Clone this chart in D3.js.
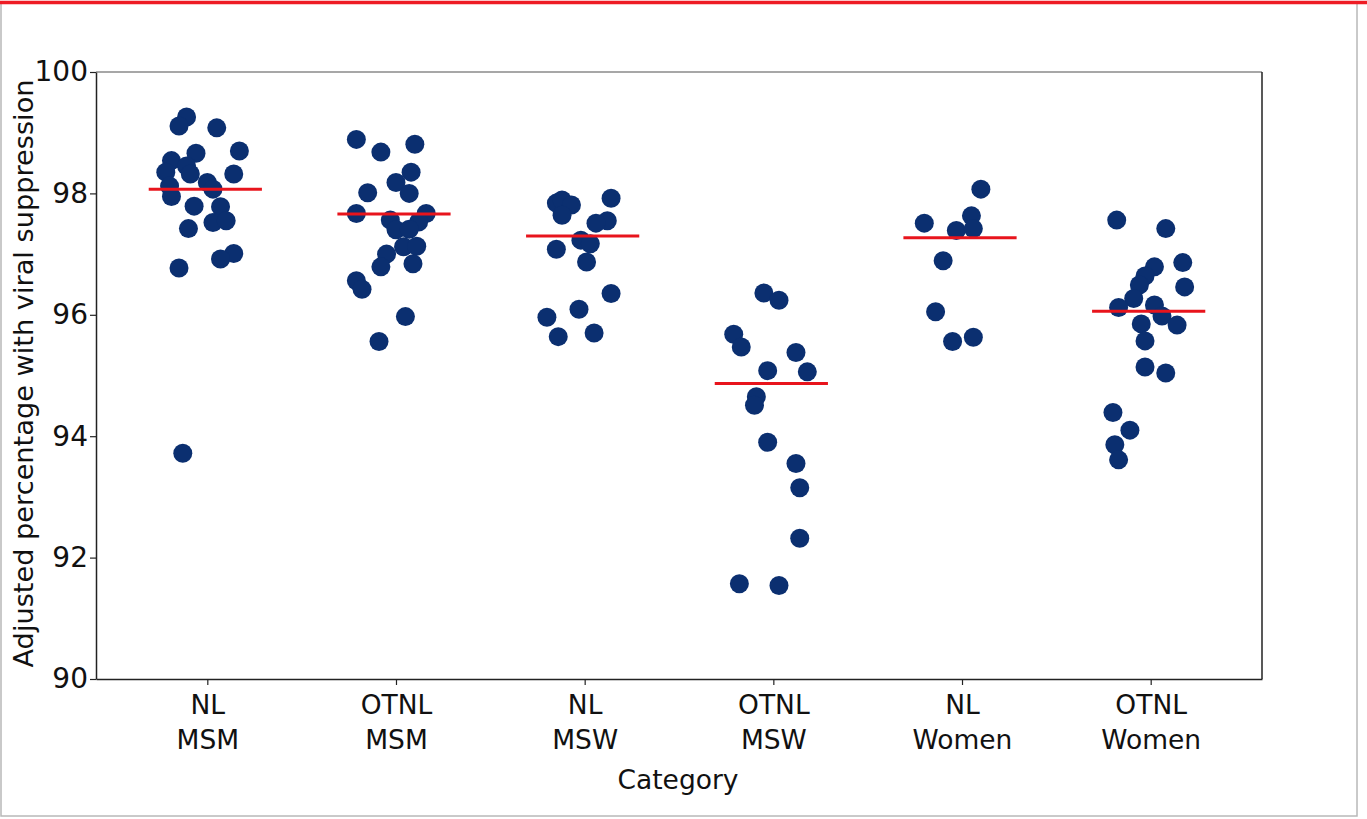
<!DOCTYPE html>
<html>
<head>
<meta charset="utf-8">
<script src="https://cdn.jsdelivr.net/npm/d3@7"></script>
<style>
  html, body { margin: 0; padding: 0; background: #fff; }
  svg { display: block; }
  text { font-family: "DejaVu Sans", Verdana, sans-serif; fill: #111; }
</style>
</head>
<body>
<svg id="chart" width="1367" height="819"></svg>
<script>
// ---- data ----
const categories = ["NL|MSM", "OTNL|MSM", "NL|MSW", "OTNL|MSW", "NL|Women", "OTNL|Women"];
const yTicks = [90, 92, 94, 96, 98, 100];

const nlMsm = [99.26, 99.11, 99.08, 98.70, 98.66, 98.54, 98.45, 98.35, 98.32, 98.32, 98.18, 98.12, 98.07, 97.95, 97.79, 97.78, 97.52, 97.55, 97.42, 97.01, 96.92, 96.77, 93.72];
const nlMsmJitter = [-0.11, -0.15, 0.05, 0.17, -0.06, -0.19, -0.11, -0.22, -0.09, 0.14, 0.00, -0.20, 0.03, -0.19, -0.07, 0.07, 0.03, 0.10, -0.10, 0.14, 0.07, -0.15, -0.13];

const otnlMsm = [98.89, 98.81, 98.68, 98.35, 98.18, 98.01, 98.00, 97.67, 97.67, 97.56, 97.53, 97.40, 97.41, 97.12, 97.13, 97.00, 96.84, 96.79, 96.56, 96.42, 95.97, 95.56];
const otnlMsmJitter = [-0.21, 0.10, -0.08, 0.08, 0.00, -0.15, 0.07, -0.21, 0.16, -0.03, 0.12, 0.00, 0.07, 0.04, 0.11, -0.05, 0.09, -0.08, -0.21, -0.18, 0.05, -0.09];

const nlMsw = [97.92, 97.84, 97.89, 97.81, 97.64, 97.55, 97.51, 97.23, 97.17, 97.08, 96.87, 96.35, 96.09, 95.96, 95.70, 95.64];
const nlMswJitter = [0.14, -0.15, -0.12, -0.07, -0.12, 0.12, 0.06, -0.02, 0.03, -0.15, 0.01, 0.14, -0.03, -0.20, 0.05, -0.14];

const otnlMsw = [96.36, 96.24, 95.68, 95.47, 95.38, 95.08, 95.06, 94.65, 94.51, 93.90, 93.55, 93.15, 92.32, 91.57, 91.54];
const otnlMswJitter = [-0.05, 0.03, -0.21, -0.17, 0.12, -0.03, 0.18, -0.09, -0.10, -0.03, 0.12, 0.14, 0.14, -0.18, 0.03];

const nlWomen = [98.07, 97.51, 97.63, 97.39, 97.42, 96.89, 96.05, 95.63, 95.56];
const nlWomenJitter = [0.10, -0.20, 0.05, -0.03, 0.06, -0.10, -0.14, 0.06, -0.05];

const otnlWomen = [97.56, 97.42, 96.86, 96.79, 96.64, 96.49, 96.46, 96.27, 96.12, 96.16, 95.98, 95.85, 95.83, 95.57, 95.14, 95.04, 94.39, 94.10, 93.86, 93.61];
const otnlWomenJitter = [-0.18, 0.08, 0.17, 0.02, -0.03, -0.06, 0.18, -0.09, -0.17, 0.02, 0.06, -0.05, 0.14, -0.03, -0.03, 0.08, -0.20, -0.11, -0.19, -0.17];

const groupValues = [nlMsm, otnlMsm, nlMsw, otnlMsw, nlWomen, otnlWomen];
const groupJitter = [nlMsmJitter, otnlMsmJitter, nlMswJitter, otnlMswJitter, nlWomenJitter, otnlWomenJitter];
const groupMeans = [98.07, 97.66, 97.30, 94.87, 97.27, 96.06];

// ---- layout ----
const W = 1367, H = 819;
const plot = { left: 96, right: 1262, top: 72, bottom: 679 };
const svg = d3.select("#chart");
const FONT = '"DejaVu Sans", Verdana, sans-serif';

// outer frame
svg.append("rect").attr("x", 1).attr("y", 3).attr("width", 1356).attr("height", 813)
  .attr("fill", "none").attr("stroke", "#b8b8b8").attr("stroke-width", 1.5);
svg.append("line").attr("x1", 0).attr("x2", W).attr("y1", 2.5).attr("y2", 2.5)
  .attr("stroke", "#ee1c24").attr("stroke-width", 3.5);

const x = d3.scalePoint().domain(categories).range([plot.left, plot.right]).padding(0.59);
const step = x.step();
const y = d3.scaleLinear().domain([90, 100]).range([plot.bottom, plot.top]);

// plot frame (top gray, right dark)
svg.append("line").attr("x1", plot.left).attr("x2", plot.right).attr("y1", plot.top).attr("y2", plot.top)
  .attr("stroke", "#8a8a8a").attr("stroke-width", 1.5);
svg.append("line").attr("x1", plot.right).attr("x2", plot.right).attr("y1", plot.top).attr("y2", plot.bottom)
  .attr("stroke", "#222").attr("stroke-width", 1.5);

// axes
const yAxis = svg.append("g").attr("transform", `translate(${plot.left},0)`)
  .call(d3.axisLeft(y).tickValues(yTicks).tickSize(6).tickSizeOuter(0).tickPadding(2).tickFormat(d3.format("d")));
yAxis.select(".domain").attr("stroke", "#222").attr("stroke-width", 1.5);
yAxis.selectAll(".tick line").attr("stroke", "#222").attr("stroke-width", 1.2);
yAxis.selectAll(".tick text").attr("font-size", 28).attr("fill", "#111")
  .style("font-family", FONT);

const xAxis = svg.append("g").attr("transform", `translate(0,${plot.bottom})`)
  .call(d3.axisBottom(x).tickSize(6).tickSizeOuter(0).tickFormat(""));
xAxis.select(".domain").attr("stroke", "#222").attr("stroke-width", 1.5);
xAxis.selectAll(".tick line").attr("stroke", "#222").attr("stroke-width", 1.2);
xAxis.selectAll(".tick").each(function(d) {
  const parts = d.split("|");
  const t = d3.select(this).append("text").attr("text-anchor", "middle").attr("font-size", 26.5)
    .style("font-family", FONT).attr("fill", "#111");
  t.append("tspan").attr("x", 0).attr("y", 35).text(parts[0]);
  t.append("tspan").attr("x", 0).attr("y", 70).text(parts[1]);
});

// axis titles
svg.append("text").attr("x", (plot.left + plot.right) / 2 - 1).attr("y", 789)
  .attr("text-anchor", "middle").attr("font-size", 26.5).text("Category");
svg.append("text").attr("transform", `translate(33,${(plot.top + plot.bottom) / 2 - 2}) rotate(-90)`)
  .attr("text-anchor", "middle").attr("font-size", 27.2).text("Adjusted percentage with viral suppression");

// points
const pts = [];
groupValues.forEach((vals, gi) => {
  vals.forEach((v, i) => pts.push({ cat: categories[gi], v, j: groupJitter[gi][i] }));
});
svg.append("g").selectAll("circle").data(pts).join("circle")
  .attr("cx", d => x(d.cat) + d.j * step)
  .attr("cy", d => y(d.v))
  .attr("r", 9.5)
  .attr("fill", "#0b2f70");

// mean lines
svg.append("g").selectAll("line").data(categories.map((c, i) => ({ c, m: groupMeans[i] }))).join("line")
  .attr("x1", d => x(d.c) - 0.3 * step - 2)
  .attr("x2", d => x(d.c) + 0.3 * step - 2)
  .attr("y1", d => y(d.m)).attr("y2", d => y(d.m))
  .attr("stroke", "#e8141c").attr("stroke-width", 3);
</script>
</body>
</html>
